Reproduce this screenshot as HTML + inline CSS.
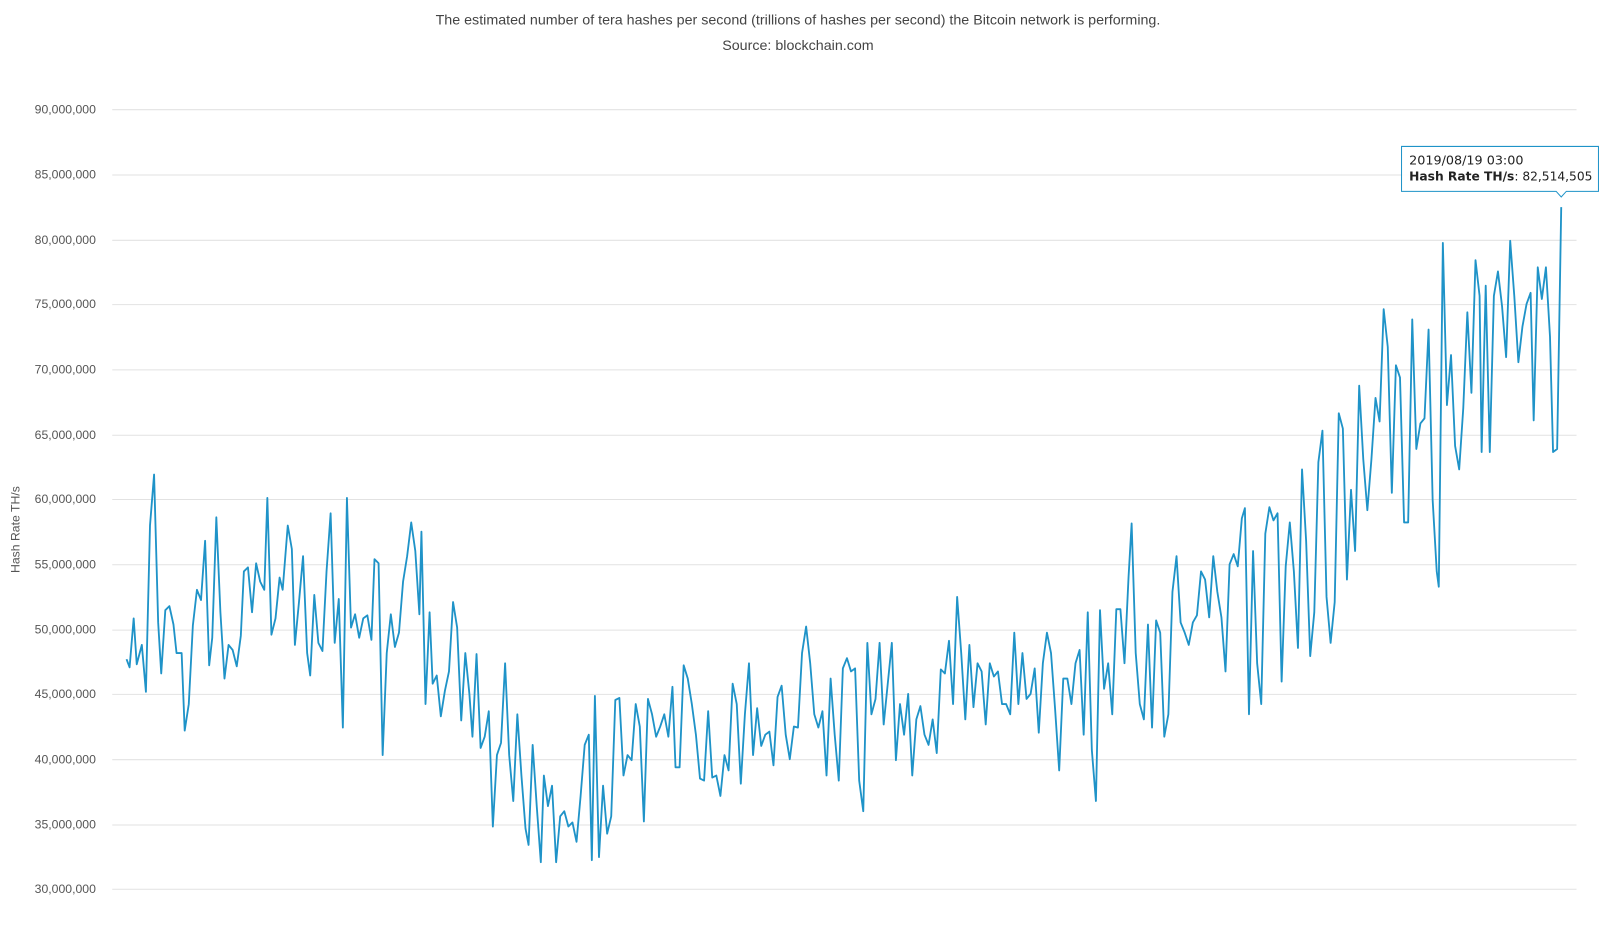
<!DOCTYPE html>
<html><head><style>
body{margin:0;background:#fff;}
svg text{font-family:"Liberation Sans",sans-serif;}
</style></head><body>
<svg width="1600" height="950" viewBox="0 0 1568 931" xmlns="http://www.w3.org/2000/svg" style="display:block">
<text x="782" y="24" text-anchor="middle" font-size="14" fill="#444">The estimated number of tera hashes per second (trillions of hashes per second) the Bitcoin network is performing.</text>
<text x="782" y="49" text-anchor="middle" font-size="14" fill="#444">Source: blockchain.com</text>
<g stroke="#e2e2e2" stroke-width="1">
<line x1="110" x2="1545" y1="107.5" y2="107.5"/><line x1="110" x2="1545" y1="171.5" y2="171.5"/><line x1="110" x2="1545" y1="235.5" y2="235.5"/><line x1="110" x2="1545" y1="298.5" y2="298.5"/><line x1="110" x2="1545" y1="362.5" y2="362.5"/><line x1="110" x2="1545" y1="426.5" y2="426.5"/><line x1="110" x2="1545" y1="489.5" y2="489.5"/><line x1="110" x2="1545" y1="553.5" y2="553.5"/><line x1="110" x2="1545" y1="617.5" y2="617.5"/><line x1="110" x2="1545" y1="680.5" y2="680.5"/><line x1="110" x2="1545" y1="744.5" y2="744.5"/><line x1="110" x2="1545" y1="808.5" y2="808.5"/><line x1="110" x2="1545" y1="871.5" y2="871.5"/>
</g>
<g font-size="12" fill="#555" text-anchor="end">
<text x="94" y="111">90,000,000</text><text x="94" y="175">85,000,000</text><text x="94" y="239">80,000,000</text><text x="94" y="302">75,000,000</text><text x="94" y="366">70,000,000</text><text x="94" y="430">65,000,000</text><text x="94" y="493">60,000,000</text><text x="94" y="557">55,000,000</text><text x="94" y="621">50,000,000</text><text x="94" y="684">45,000,000</text><text x="94" y="748">40,000,000</text><text x="94" y="812">35,000,000</text><text x="94" y="875">30,000,000</text>
</g>
<text transform="translate(19,519) rotate(-90)" text-anchor="middle" font-size="12" fill="#555">Hash Rate TH/s</text>
<polyline fill="none" stroke="#1f93c8" stroke-width="1.8" stroke-linejoin="round" points="124,646 127,654 131,606 134,651 139,632 143,678 147,515 151,465 155,610 158,660 162,598 166,594 170,612 173,640 178,640 181,716 185,690 189,613 193,578 197,588 201,530 205,652 208,625 212,507 216,600 220,665 224,632 228,637 232,653 236,623 239,560 243,556 247,600 251,552 255,570 259,578 262,488 266,622 270,606 274,566 277,578 282,515 286,538 289,632 293,590 297,545 301,640 304,662 308,583 312,630 316,638 320,560 324,503 328,630 332,587 336,713 340,488 344,615 348,602 352,625 356,606 360,603 364,627 367,548 371,552 375,740 379,640 383,602 387,634 391,620 395,570 399,545 403,512 407,540 411,602 413,521 417,690 421,600 424,670 428,662 432,702 436,677 440,658 444,590 448,615 452,706 456,640 460,680 463,722 467,641 471,733 475,722 479,697 483,810 487,740 491,728 495,650 499,740 503,785 507,700 511,760 515,812 518,828 522,730 526,790 530,845 533,760 537,790 541,770 545,845 549,800 553,795 557,810 561,806 565,825 569,780 573,730 577,720 580,843 583,682 587,840 591,770 595,817 599,800 603,686 607,684 611,760 615,740 619,745 623,690 627,712 631,805 635,685 639,700 643,722 647,712 651,700 655,722 659,673 662,752 666,752 670,652 674,665 678,690 682,720 686,763 690,765 694,697 698,762 702,760 706,780 710,740 714,755 718,670 722,690 726,768 730,700 734,650 738,740 742,694 746,731 750,720 754,717 758,750 762,683 766,672 770,720 774,744 778,712 782,713 786,640 790,614 794,650 798,700 802,713 806,697 810,760 814,665 818,720 822,765 826,655 830,645 834,658 838,655 842,765 846,795 850,630 854,700 858,685 862,630 866,710 870,670 874,630 878,745 882,690 886,720 890,680 894,760 898,705 902,692 906,720 910,730 914,705 918,738 922,656 926,660 930,628 934,690 938,585 942,640 946,705 950,632 954,693 958,650 962,658 966,710 970,650 974,663 978,658 982,690 986,690 990,700 994,620 998,690 1002,640 1006,685 1010,680 1014,655 1018,718 1022,650 1026,620 1030,640 1034,695 1038,755 1042,665 1046,665 1050,690 1054,650 1058,637 1062,720 1066,600 1070,735 1074,785 1078,598 1082,675 1086,650 1090,700 1094,597 1098,597 1102,650 1106,565 1109,513 1113,640 1117,690 1121,705 1125,612 1129,713 1133,608 1137,620 1141,722 1145,700 1149,580 1153,545 1157,610 1161,620 1165,632 1169,610 1173,603 1177,560 1181,568 1185,605 1189,545 1193,580 1197,605 1201,658 1205,553 1209,543 1213,555 1217,508 1220,498 1224,700 1228,540 1232,650 1236,690 1240,523 1244,497 1248,510 1252,503 1256,668 1260,555 1264,512 1268,560 1272,635 1276,460 1280,530 1284,643 1288,600 1292,453 1296,422 1300,585 1304,630 1308,590 1312,405 1316,420 1320,568 1324,480 1328,540 1332,378 1336,450 1340,500 1344,450 1348,390 1352,413 1356,303 1360,340 1364,483 1368,358 1372,370 1376,512 1380,512 1384,313 1388,440 1392,415 1396,410 1400,323 1404,490 1408,560 1410,575 1414,238 1418,397 1422,348 1426,437 1430,460 1434,400 1438,306 1442,385 1446,255 1450,290 1452,443 1456,280 1460,443 1464,290 1468,266 1472,300 1476,350 1480,236 1484,290 1488,355 1492,320 1496,298 1500,287 1503,412 1507,262 1511,293 1515,262 1519,330 1522,443 1526,440 1530,203"/>
<path d="M1373.5,143.5 H1566.5 V187.5 H1535 L1530,193 L1525,187.5 H1373.5 Z" fill="#fff" fill-opacity="0.95" stroke="#1f93c8" stroke-width="1"/>
<text x="1381" y="161" font-size="12.5" fill="#222" style="font-family:'DejaVu Sans',sans-serif">2019/08/19 03:00</text>
<text x="1381" y="177" font-size="12" fill="#222" style="font-family:'DejaVu Sans',sans-serif"><tspan font-weight="bold">Hash Rate TH/s</tspan>: 82,514,505</text>
</svg>
</body></html>
